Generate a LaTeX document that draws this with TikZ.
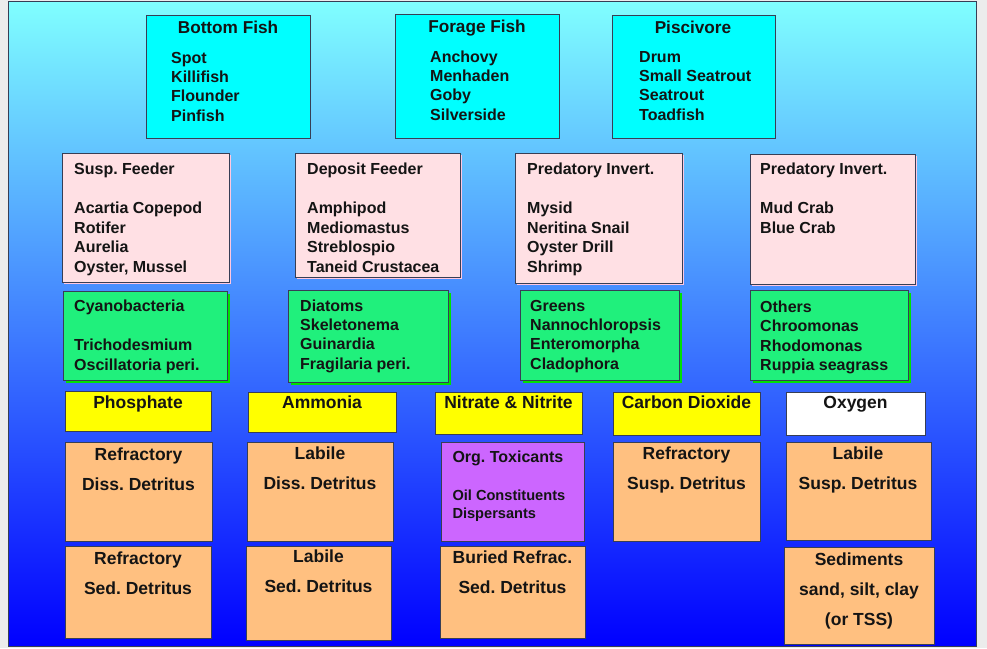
\documentclass[tikz,border=0pt]{standalone}
\usepackage{fontspec}
\setmainfont{Liberation Sans}
\frenchspacing
\usetikzlibrary{shadows}
\definecolor{outerbg}{RGB}{236,236,236}
\definecolor{paneltop}{RGB}{128,255,255}
\definecolor{panelbot}{RGB}{0,0,255}
\definecolor{cyanbox}{RGB}{0,255,255}
\definecolor{pinkbox}{RGB}{255,224,228}
\definecolor{pinkshadow}{RGB}{255,200,225}
\definecolor{greenbox}{RGB}{32,240,124}
\definecolor{greenshadow}{RGB}{0,225,0}
\definecolor{yellowbox}{RGB}{255,255,0}
\definecolor{orangebox}{RGB}{255,192,128}
\definecolor{purplebox}{RGB}{204,102,255}
\definecolor{boxline}{RGB}{55,62,85}
\definecolor{txt}{RGB}{20,20,20}
\tikzset{
  box/.style={draw=boxline, line width=0.8pt, inner sep=0pt, anchor=north west},
  cybox/.style={box, fill=cyanbox},
  pkbox/.style={box, fill=pinkbox, drop shadow={shadow xshift=1.5pt, shadow yshift=-1.5pt, fill=pinkshadow, opacity=1}},
  gnbox/.style={box, fill=greenbox, drop shadow={shadow xshift=2.5pt, shadow yshift=-2.5pt, fill=greenshadow, opacity=1}},
  ylbox/.style={box, fill=yellowbox},
  whbox/.style={box, fill=white},
  orbox/.style={box, fill=orangebox},
  ppbox/.style={box, fill=purplebox},
  ttl/.style={font=\bfseries\fontsize{17.2}{19.5}\selectfont, text=txt, inner sep=0pt, anchor=base},
  itm/.style={font=\bfseries\fontsize{16}{19.3}\selectfont, text=txt, inner sep=0pt, align=left, anchor=base west},
  itmb/.style={font=\bfseries\fontsize{16}{19.5}\selectfont, text=txt, inner sep=0pt, align=left, anchor=base west},
  ctr/.style={font=\bfseries\fontsize{17.5}{30}\selectfont, text=txt, inner sep=0pt, align=center, anchor=base},
  sml/.style={font=\bfseries\fontsize{14.6}{17.6}\selectfont, text=txt, inner sep=0pt, align=left, anchor=base west}
}
\begin{document}
\begin{tikzpicture}[x=1pt,y=-1pt]
\useasboundingbox (0,0) rectangle (987,648);
\fill[outerbg] (0,0) rectangle (987,648);
\shade[top color=paneltop, bottom color=panelbot] (8,1) rectangle (976,646);
\draw[boxline, line width=0.8pt] (8,1) rectangle (976,646);

% Row 1: fish (base anchor = baseline of last line)
\node[cybox, minimum width=164pt, minimum height=123pt] (bf) at (146,15) {};
\node[ttl] (bft) at (228,33) {Bottom Fish};
\node[itm] (bfi) at (171,121) {Spot\\Killifish\\Flounder\\Pinfish};

\node[cybox, minimum width=164pt, minimum height=124pt] (ff) at (395,14) {};
\node[ttl] (fft) at (477,32) {Forage Fish};
\node[itm] (ffi) at (430,120) {Anchovy\\Menhaden\\Goby\\Silverside};

\node[cybox, minimum width=163pt, minimum height=123pt] (pv) at (612,15) {};
\node[ttl] (pvt) at (693,33.5) {Piscivore};
\node[itm] (pvi) at (639,120) {Drum\\Small Seatrout\\Seatrout\\Toadfish};

% Row 2: invertebrates
\node[pkbox, minimum width=167pt, minimum height=129pt] (sf) at (62,153) {};
\node[itmb] (sft) at (74,272) {Susp. Feeder\\[19.5pt]Acartia Copepod\\Rotifer\\Aurelia\\Oyster, Mussel};

\node[pkbox, minimum width=165pt, minimum height=124pt] (df) at (295,153) {};
\node[itmb] (dft) at (307,272) {Deposit Feeder\\[19.5pt]Amphipod\\Mediomastus\\Streblospio\\Taneid Crustacea};

\node[pkbox, minimum width=167pt, minimum height=130pt] (pi) at (515,153) {};
\node[itmb] (pit) at (527,272) {Predatory Invert.\\[19.5pt]Mysid\\Neritina Snail\\Oyster Drill\\Shrimp};

\node[pkbox, minimum width=165pt, minimum height=130pt] (pj) at (750,154) {};
\node[itmb] (pjt) at (760,233) {Predatory Invert.\\[19.5pt]Mud Crab\\Blue Crab};

% Row 3: algae
\node[gnbox, minimum width=164pt, minimum height=89pt] (cy) at (63,291) {};
\node[itmb] (cyt) at (74,370) {Cyanobacteria\\[19.5pt]Trichodesmium\\Oscillatoria peri.};

\node[gnbox, minimum width=160pt, minimum height=92pt] (di) at (288,290) {};
\node[itm] (dit) at (300,369) {Diatoms\\Skeletonema\\Guinardia\\Fragilaria peri.};

\node[gnbox, minimum width=159pt, minimum height=90pt] (gr) at (520,290) {};
\node[itm] (grt) at (530,369) {Greens\\Nannochloropsis\\Enteromorpha\\Cladophora};

\node[gnbox, minimum width=158pt, minimum height=90pt] (ot) at (750,290) {};
\node[itm] (ott) at (760,370.5) {Others\\Chroomonas\\Rhodomonas\\Ruppia seagrass};

% Row 4: nutrients
\node[ylbox, minimum width=146pt, minimum height=40pt] (ph) at (65,391) {};
\node[ctr] (pht) at (138,408.3) {Phosphate};
\node[ylbox, minimum width=148pt, minimum height=40pt] (am) at (248,391.5) {};
\node[ctr] (amt) at (322,408.3) {Ammonia};
\node[ylbox, minimum width=147pt, minimum height=42pt] (ni) at (435,391.5) {};
\node[ctr] (nit) at (508.5,408.3) {Nitrate \& Nitrite};
\node[ylbox, minimum width=147pt, minimum height=43.5pt] (co) at (613,391.5) {};
\node[ctr] (cot) at (686.5,408.3) {Carbon Dioxide};
\node[whbox, minimum width=139pt, minimum height=43.5pt] (ox) at (786,391.5) {};
\node[ctr] (oxt) at (855.5,408.3) {Oxygen};

% Row 5: detritus
\node[orbox, minimum width=147pt, minimum height=99pt] (rdd) at (65,442) {};
\node[ctr] (rddt) at (138.5,490) {Refractory\\Diss. Detritus};
\node[orbox, minimum width=146pt, minimum height=99pt] (ldd) at (247,441.5) {};
\node[ctr] (lddt) at (320,489) {Labile\\Diss. Detritus};
\node[ppbox, minimum width=143.5pt, minimum height=99pt] (tox) at (440.5,441.5) {};
\node[itm] (toxt) at (452.3,462.3) {Org. Toxicants};
\node[sml] (toxi) at (452.3,518.3) {Oil Constituents\\Dispersants};
\node[orbox, minimum width=147pt, minimum height=98.5pt] (rsd) at (613,442) {};
\node[ctr] (rsdt) at (686.5,489) {Refractory\\Susp. Detritus};
\node[orbox, minimum width=145.5pt, minimum height=98pt] (lsd) at (785.5,442) {};
\node[ctr] (lsdt) at (858,489) {Labile\\Susp. Detritus};

% Row 6: sediments
\node[orbox, minimum width=146pt, minimum height=92pt] (rsed) at (65,546) {};
\node[ctr] (rsedt) at (138,594) {Refractory\\Sed. Detritus};
\node[orbox, minimum width=145pt, minimum height=94pt] (lsed) at (246,546) {};
\node[ctr] (lsedt) at (318.5,592) {Labile\\Sed. Detritus};
\node[orbox, minimum width=145pt, minimum height=92pt] (bur) at (440,546) {};
\node[ctr] (burt) at (512.5,593) {Buried Refrac.\\Sed. Detritus};
\node[orbox, minimum width=150pt, minimum height=97pt] (sed) at (784,546.5) {};
\node[ctr] (sedt) at (859,625) {Sediments\\sand, silt, clay\\(or TSS)};
\end{tikzpicture}
\end{document}
